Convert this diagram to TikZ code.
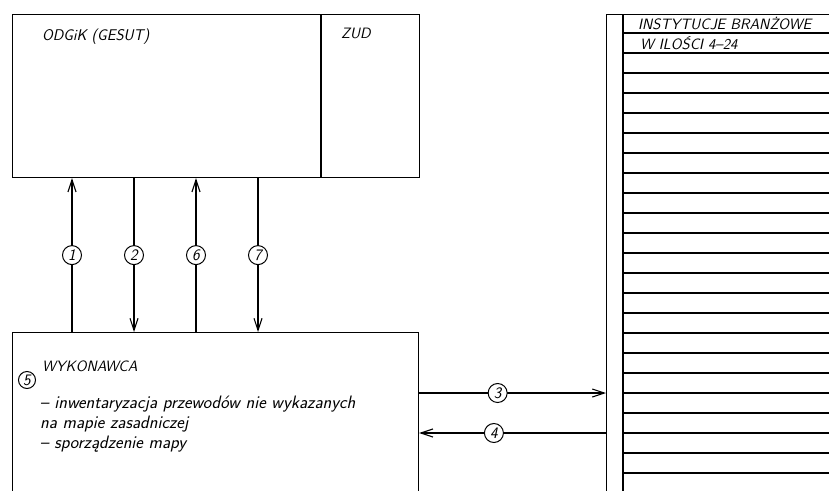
\documentclass[tikz,border=0pt]{standalone}
\usepackage{fontspec}
\usetikzlibrary{arrows.meta,calc,positioning}
\tikzset{
  box/.style     = {draw, line width=1.2pt, inner sep=0pt, anchor=north west},
  flow/.style    = {line width=1.1pt, -{Straight Barb[length=12pt,width=8pt,line width=1.1pt]}},
  numcirc/.style = {circle, draw, line width=1pt, fill=white, inner sep=0pt,
                    minimum size=19pt, font=\sffamily\slshape\fontsize{16}{16}\selectfont},
  lbl/.style     = {font=\sffamily\slshape\fontsize{15}{20}\selectfont\addfontfeatures{LetterSpace=5},
                    inner sep=0pt, anchor=base west, align=left},
  desc/.style    = {lbl, font=\sffamily\slshape\fontsize{18}{20}\selectfont\addfontfeatures{LetterSpace=5}},
  row/.style     = {line width=1.1pt},
}

\begin{document}
\begin{tikzpicture}[x=1pt,y=-1pt]
  \useasboundingbox (0,0) rectangle (829,490);
  \clip (0,0) rectangle (829,490);

  % boxes
  \node[box, minimum width=308pt, minimum height=163pt] (odgik) at (12,14) {};
  \node[box, minimum width=98pt, minimum height=163pt] (zud) at (odgik.north east) {};
  \node[box, minimum width=406pt, minimum height=180pt] (wyk) at (12,332) {};
  \node[box, minimum width=240pt, minimum height=500pt] (inst) at (606,14) {};

  % box titles
  \node[lbl, font=\sffamily\slshape\fontsize{15.5}{20}\selectfont\addfontfeatures{LetterSpace=5}]
    (odgiklbl) at (42,40) {ODGiK (GESUT)};
  \node[lbl] (zudlbl) at (341,38) {ZUD};
  \node[lbl] (wyklbl) at (42,371) {WYKONAWCA};
  \node[desc, anchor=north west] (wyktxt) at (40,396) {-- inwentaryzacja przewodów nie wykazanych\\
    na mapie zasadniczej\\
    -- sporządzenie mapy};
  \node[numcirc, minimum size=17pt] (n5) at (27,380) {5};

  % institutions list
  \coordinate (instin) at (623,14);
  \draw[row] (instin) -- ($(instin)+(0,480)$);
  \foreach \k in {0,...,22}
    \draw[row] ($(instin)+(0,19+20*\k)$) -- +(230,0);
  \node[lbl, fill=white, inner sep=1pt] (instlbl) at (637,29) {INSTYTUCJE BRANŻOWE};
  \node[lbl, fill=white, inner sep=1pt] (ilelbl) at (639,49) {W ILOŚCI 4--24};

  % vertical flows
  \coordinate (c1) at (72,0);
  \coordinate (c2) at (134,0);
  \coordinate (c6) at (196,0);
  \coordinate (c7) at (258,0);
  \draw[flow] (wyk.north -| c1) -- node[numcirc] {1} (odgik.south -| c1);
  \draw[flow] (odgik.south -| c2) -- node[numcirc] {2} (wyk.north -| c2);
  \draw[flow] (wyk.north -| c6) -- node[numcirc] {6} (odgik.south -| c6);
  \draw[flow] (odgik.south -| c7) -- node[numcirc] {7} (wyk.north -| c7);

  % horizontal flows
  \coordinate (r3) at (0,393);
  \coordinate (r4) at (0,433);
  \draw[flow] (wyk.east |- r3) -- node[numcirc, pos=0.42] {3} (inst.west |- r3);
  \draw[flow] (inst.west |- r4) -- node[numcirc, pos=0.6] {4} (wyk.east |- r4);
\end{tikzpicture}
\end{document}
